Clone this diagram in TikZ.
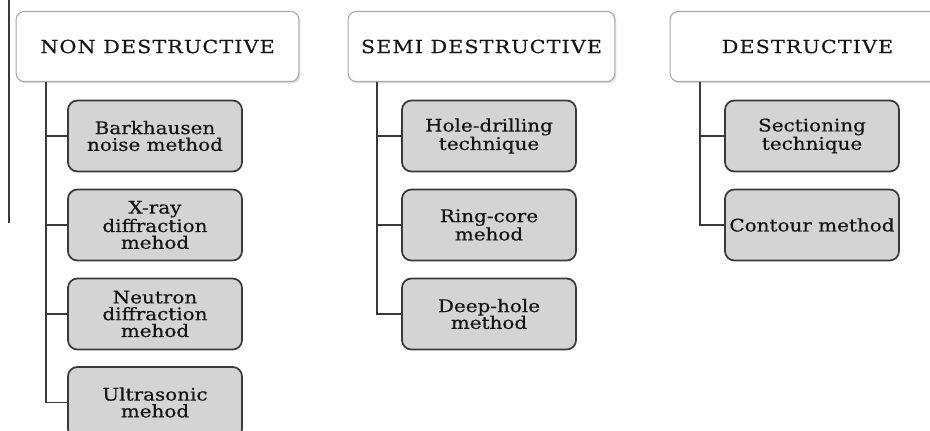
\documentclass[tikz,border=0pt]{standalone}
\usepackage{fontspec}
\setmainfont{DejaVu Serif}[FakeStretch=1.15,FakeBold=0.5]
\newfontfamily\headfont{DejaVu Serif}[FakeStretch=1.15,FakeBold=0.4,LetterSpace=6]
\usepackage{tikz}
\usetikzlibrary{shadows}
\definecolor{ink}{HTML}{141414}
\definecolor{wire}{HTML}{3A3A3A}
\definecolor{rim}{HTML}{A8A8A8}
\definecolor{cell}{HTML}{D4D4D4}

\begin{document}
\begin{tikzpicture}[x=0.75pt, y=-0.75pt,
    head/.style={draw=rim, fill=white, line width=0.8pt, rounded corners=6pt,
      minimum height=52.5pt, text=ink, font=\headfont\fontsize{13.5}{15}\selectfont,
      drop shadow={opacity=0.25, shadow xshift=1.2pt, shadow yshift=-1.5pt}},
    leaf/.style={draw=wire, fill=cell, line width=1.3pt, rounded corners=7pt,
      minimum width=130.5pt, minimum height=53.25pt, inner sep=1pt, align=center,
      text=ink, font=\fontsize{13}{12.6}\selectfont},
    wire/.style={draw=wire, line width=1.3pt}]

    \useasboundingbox (0, 0) rectangle (930, 431);

    \coordinate (t) at (9, 0);
    \coordinate (u) at (9, 223);
    \draw [wire] (t) -- (u);

    \node [head, minimum width=212pt] (n) at (157.5, 46.5) {NON DESTRUCTIVE};
    \node [head, minimum width=200pt] (s) at (481.5, 46.5) {SEMI DESTRUCTIVE};
    \node [head, minimum width=206pt] (d) at (807.5, 46.5) {DESTRUCTIVE};

    \node [leaf] (n1) at (155, 136) {Barkhausen\\noise method};
    \node [leaf] (n2) at (155, 225) {X-ray\\diffraction\\mehod};
    \node [leaf] (n3) at (155, 314) {Neutron\\diffraction\\mehod};
    \node [leaf] (n4) at (155, 402.5) {Ultrasonic\\mehod};

    \node [leaf] (s1) at (489, 136) {Hole-drilling\\technique};
    \node [leaf] (s2) at (489, 225) {Ring-core\\mehod};
    \node [leaf] (s3) at (489, 314) {Deep-hole\\method};

    \node [leaf] (d1) at (812, 136) {Sectioning\\technique};
    \node [leaf] (d2) at (812, 225) {Contour method};

    \path (n.south west) ++(30, 0) coordinate (nt);
    \path (s.south west) ++(29, 0) coordinate (st);
    \path (d.south west) ++(30, 0) coordinate (dt);

    \draw [wire] (nt) |- (n1.west);
    \draw [wire] (nt) |- (n2.west);
    \draw [wire] (nt) |- (n3.west);
    \draw [wire] (nt) |- (n4.west);
    \draw [wire] (st) |- (s1.west);
    \draw [wire] (st) |- (s2.west);
    \draw [wire] (st) |- (s3.west);
    \draw [wire] (dt) |- (d1.west);
    \draw [wire] (dt) |- (d2.west);

\end{tikzpicture}
\end{document}
